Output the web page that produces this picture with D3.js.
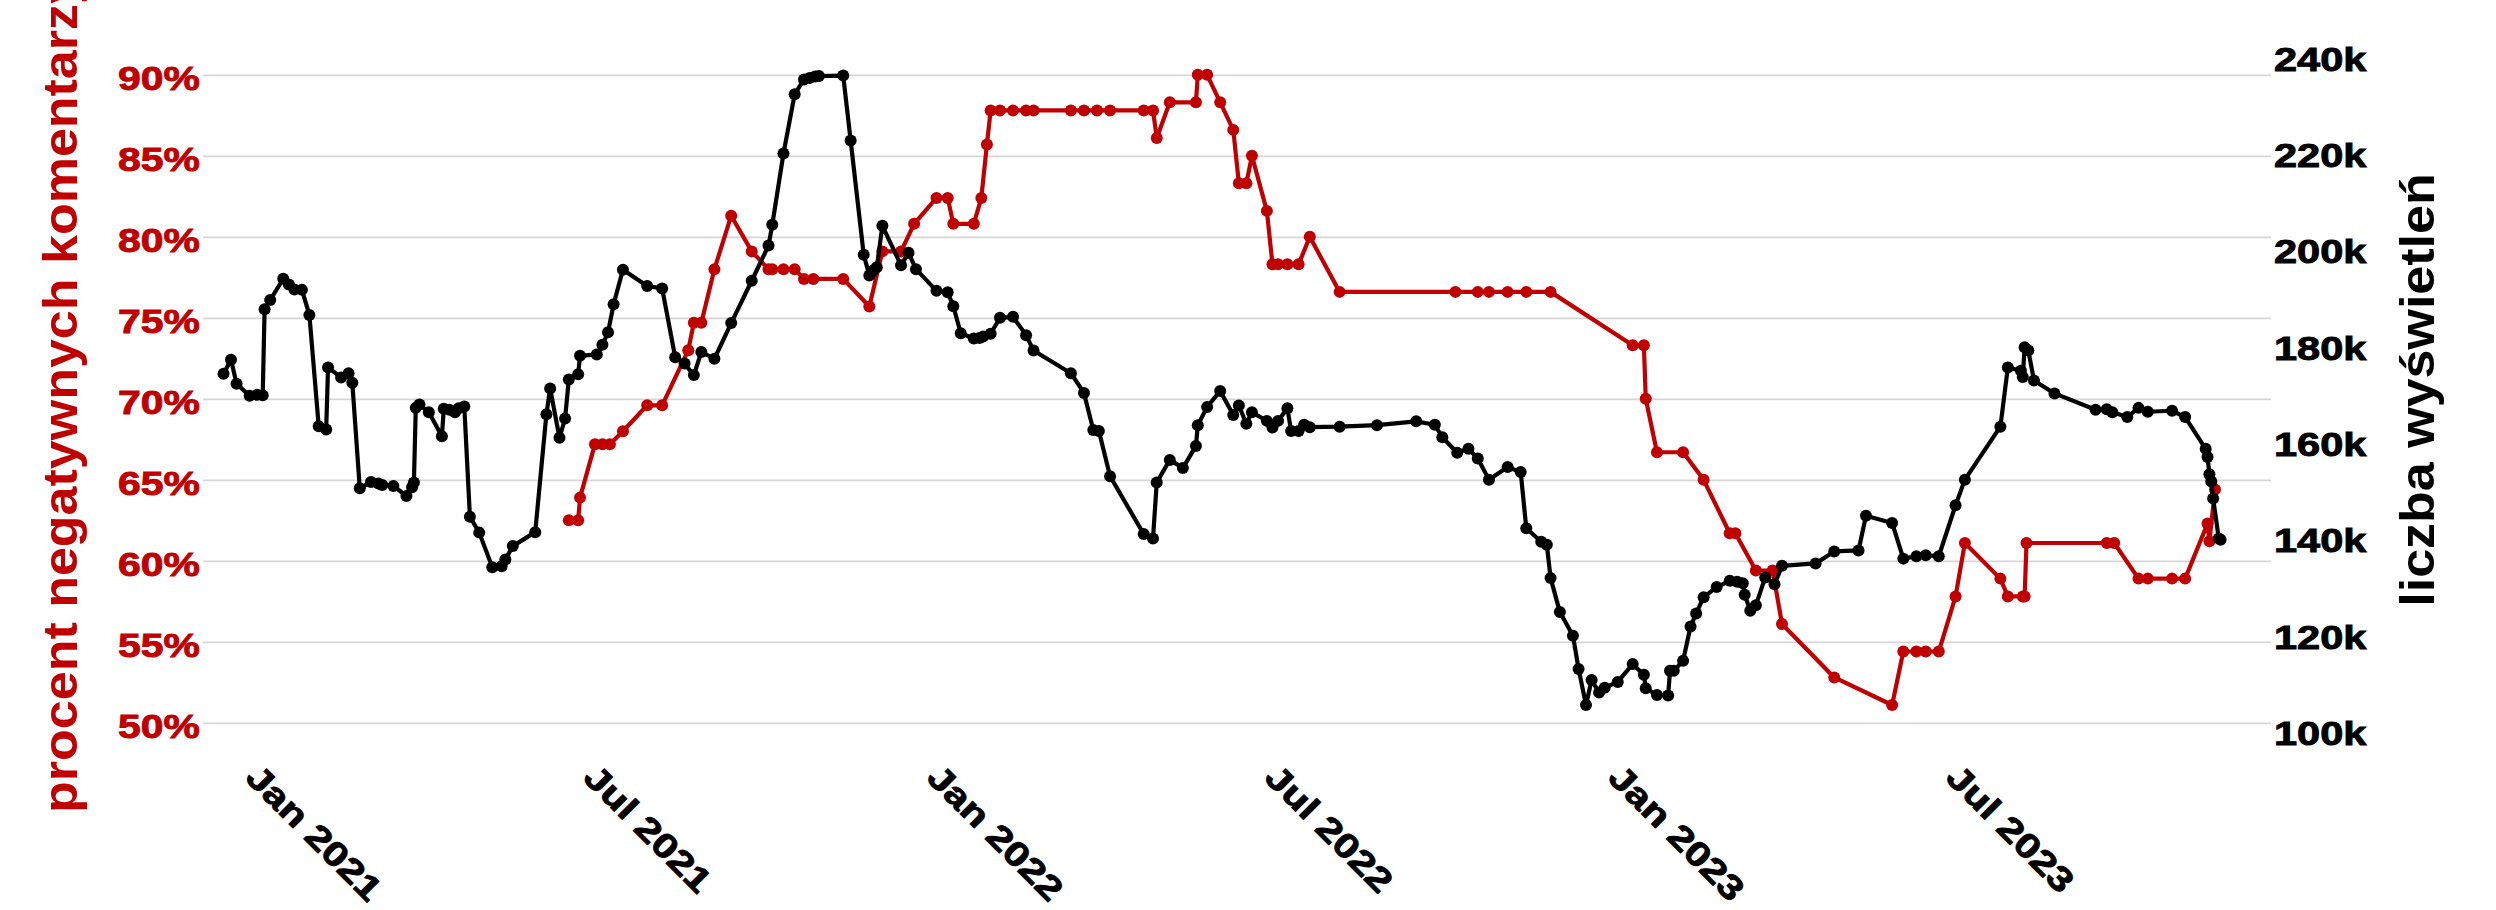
<!DOCTYPE html>
<html>
<head>
<meta charset="utf-8">
<script src="https://cdn.jsdelivr.net/npm/d3@7"></script>
<style>
  html, body { margin: 0; padding: 0; background: #fff; }
  svg { display: block; }
  text { font-family: "Liberation Sans", Arial, sans-serif; font-weight: bold; }
</style>
</head>
<body>
<svg id="chart" width="2496" height="910"></svg>
<script>
// views over time (black, right axis, thousands)
var viewDates = ["2020-12-12","2020-12-16","2020-12-19","2020-12-26","2020-12-30","2021-01-02","2021-01-03","2021-01-06","2021-01-13","2021-01-16",
  "2021-01-19","2021-01-23","2021-01-27","2021-02-01","2021-02-05","2021-02-06","2021-02-13","2021-02-17","2021-02-19","2021-02-23",
  "2021-03-01","2021-03-05","2021-03-07","2021-03-13","2021-03-20","2021-03-23","2021-03-24","2021-03-25","2021-03-27","2021-04-01",
  "2021-04-08","2021-04-09","2021-04-12","2021-04-15","2021-04-17","2021-04-20","2021-04-23","2021-04-28","2021-05-05","2021-05-10",
  "2021-05-12","2021-05-16","2021-05-28","2021-06-03","2021-06-05","2021-06-10","2021-06-13","2021-06-15","2021-06-20","2021-06-21",
  "2021-06-30","2021-07-03","2021-07-06","2021-07-09","2021-07-14","2021-07-27","2021-08-04","2021-08-11","2021-08-16","2021-08-21",
  "2021-08-25","2021-09-01","2021-09-10","2021-09-21","2021-09-30","2021-10-02","2021-10-08","2021-10-14","2021-10-19","2021-10-22",
  "2021-10-25","2021-10-27","2021-11-09","2021-11-13","2021-11-20","2021-11-23","2021-11-25","2021-11-27","2021-11-30","2021-12-10",
  "2021-12-14","2021-12-18","2021-12-29","2022-01-04","2022-01-07","2022-01-11","2022-01-18","2022-01-21","2022-01-23","2022-01-27",
  "2022-02-01","2022-02-08","2022-02-15","2022-02-19","2022-03-11","2022-03-18","2022-03-23","2022-03-26","2022-04-01","2022-04-19",
  "2022-04-24","2022-04-26","2022-05-03","2022-05-10","2022-05-17","2022-05-18","2022-05-23","2022-05-30","2022-06-06","2022-06-09",
  "2022-06-13","2022-06-16","2022-06-24","2022-06-27","2022-06-30","2022-07-05","2022-07-07","2022-07-11","2022-07-14","2022-07-17",
  "2022-08-02","2022-08-22","2022-09-12","2022-09-22","2022-09-26","2022-10-04","2022-10-10","2022-10-15","2022-10-21","2022-10-31",
  "2022-11-07","2022-11-10","2022-11-18","2022-11-21","2022-11-23","2022-11-28","2022-12-05","2022-12-08","2022-12-12","2022-12-15",
  "2022-12-19","2022-12-22","2022-12-29","2023-01-06","2023-01-12","2023-01-13","2023-01-19","2023-01-25","2023-01-26","2023-01-28",
  "2023-02-02","2023-02-06","2023-02-09","2023-02-13","2023-02-20","2023-02-27","2023-03-03","2023-03-06","2023-03-07","2023-03-10",
  "2023-03-13","2023-03-18","2023-03-23","2023-03-27","2023-04-14","2023-04-24","2023-05-07","2023-05-11","2023-05-25","2023-05-31",
  "2023-06-07","2023-06-12","2023-06-19","2023-06-28","2023-07-03","2023-07-22","2023-07-26","2023-08-02","2023-08-03","2023-08-04",
  "2023-08-06","2023-08-09","2023-08-20","2023-09-11","2023-09-17","2023-09-20","2023-09-28","2023-10-04","2023-10-09","2023-10-22",
  "2023-10-29","2023-11-09","2023-11-10","2023-11-11","2023-11-12","2023-11-13","2023-11-16","2023-11-17"];
var viewCounts = [174.5,177.4,172.4,169.9,170.1,170.0,187.9,189.8,194.2,193.0,
  192.0,191.9,186.7,163.6,162.9,175.8,173.7,174.6,172.6,150.7,
  152.0,151.7,151.4,151.2,149.1,150.9,151.9,167.4,168.1,166.5,
  161.5,167.2,167.0,166.5,167.3,167.7,144.8,141.5,134.3,134.5,
  135.9,138.7,141.6,166.1,171.4,161.2,165.2,173.3,174.4,178.2,
  178.5,180.5,183.1,188.9,196.1,192.7,192.2,177.9,176.6,174.2,
  179.0,177.6,185.0,193.8,201.1,205.4,220.2,232.5,235.6,235.9,
  236.2,236.3,236.4,222.9,199.2,194.9,195.9,196.6,205.2,197.0,
  199.6,196.2,191.7,191.4,188.5,182.9,181.8,181.9,182.2,182.8,
  186.1,186.3,182.5,179.3,174.6,170.5,162.8,162.6,153.2,141.2,
  140.3,151.9,156.6,154.9,159.5,163.8,167.6,170.9,165.9,167.9,
  164.1,166.5,164.7,163.3,164.7,167.3,162.6,162.6,163.9,163.4,
  163.5,163.8,164.6,163.9,161.3,158.1,158.9,156.9,152.5,155.1,
  154.1,142.4,139.6,139.0,132.1,125.0,120.1,113.2,105.7,110.9,
  108.3,109.3,110.5,114.2,112.0,109.2,107.8,107.7,112.8,112.8,
  114.9,122.0,124.7,128.1,130.2,131.5,131.3,131.0,128.6,125.3,
  126.4,132.2,130.8,134.6,135.1,137.6,137.8,145.0,143.5,136.1,
  136.6,136.8,136.6,147.2,152.5,163.5,175.8,175.1,173.8,180.0,
  179.3,173.1,170.4,167.0,167.1,166.5,165.5,167.4,166.6,166.8,
  165.5,158.9,157.2,153.6,152.1,148.6,140.3,140.0];

// share of negative comments (red, left axis, %)
var negDates = ["2021-06-15","2021-06-20","2021-06-21","2021-06-29","2021-07-03","2021-07-07","2021-07-14","2021-07-27","2021-08-04","2021-08-18",
  "2021-08-21","2021-08-25","2021-09-01","2021-09-10","2021-09-21","2021-09-30","2021-10-02","2021-10-08","2021-10-14","2021-10-19",
  "2021-10-24","2021-11-09","2021-11-23","2021-11-30","2021-12-10","2021-12-17","2021-12-29","2022-01-04","2022-01-07","2022-01-18",
  "2022-01-22","2022-01-25","2022-01-27","2022-02-01","2022-02-08","2022-02-15","2022-02-19","2022-03-11","2022-03-18","2022-03-25",
  "2022-04-01","2022-04-19","2022-04-24","2022-04-26","2022-05-03","2022-05-17","2022-05-18","2022-05-23","2022-05-30","2022-06-06",
  "2022-06-09","2022-06-13","2022-06-16","2022-06-24","2022-06-27","2022-06-30","2022-07-05","2022-07-11","2022-07-17","2022-08-02",
  "2022-10-03","2022-10-15","2022-10-21","2022-10-31","2022-11-10","2022-11-23","2023-01-06","2023-01-12","2023-01-13","2023-01-19",
  "2023-02-02","2023-02-13","2023-02-27","2023-03-02","2023-03-13","2023-03-22","2023-03-27","2023-04-24","2023-05-25","2023-05-31",
  "2023-06-07","2023-06-12","2023-06-19","2023-06-28","2023-07-03","2023-07-22","2023-07-26","2023-08-03","2023-08-04","2023-08-05",
  "2023-09-17","2023-09-21","2023-10-04","2023-10-09","2023-10-22","2023-10-29","2023-11-10","2023-11-11","2023-11-14"];
var negPct = [62.5,62.5,63.9,67.2,67.2,67.2,68.0,69.6,69.6,73.0,
  74.7,74.7,78.0,81.3,79.1,78.0,78.0,78.0,78.0,77.4,
  77.4,77.4,75.7,79.1,79.1,80.8,82.4,82.4,80.8,80.8,
  82.4,85.7,87.8,87.8,87.8,87.8,87.8,87.8,87.8,87.8,
  87.8,87.8,87.8,86.1,88.3,88.3,90.0,90.0,88.3,86.6,
  83.3,83.3,85.0,81.6,78.3,78.3,78.3,78.3,80.0,76.6,
  76.6,76.6,76.6,76.6,76.6,76.6,73.3,73.3,70.0,66.7,
  66.7,65.0,61.7,61.7,59.4,59.4,56.1,52.8,51.1,54.4,
  54.4,54.4,54.4,57.8,61.1,58.9,57.8,57.8,57.8,61.1,
  61.1,61.1,58.9,58.9,58.9,58.9,62.3,61.2,64.4];

// ticks
var pctTicks = [50, 55, 60, 65, 70, 75, 80, 85, 90];
var viewTicks = [100, 120, 140, 160, 180, 200, 220, 240];
var dateTicks = ["2021-01-01", "2021-07-01", "2022-01-01", "2022-07-01", "2023-01-01", "2023-07-01"];
var xDomain = ["2020-12-01", "2023-12-14"];

var red = "#c00000";
var parseDate = d3.utcParse("%Y-%m-%d");

var views = viewDates.map(function(d, i) { return { date: parseDate(d), v: viewCounts[i] }; });
var neg = negDates.map(function(d, i) { return { date: parseDate(d), p: negPct[i] }; });

var panel = { left: 203, right: 2271 };

var x = d3.scaleUtc().domain(xDomain.map(parseDate)).range([panel.left, panel.right]);
var yLeft = d3.scaleLinear().domain([50, 90]).range([722.8, 74.8]);
var yRight = d3.scaleLinear().domain([100, 240]).range([732.5, 58.2]);

var svg = d3.select("#chart");

// horizontal gridlines
svg.append("g").attr("class", "grid")
  .call(d3.axisLeft(yLeft).tickValues(pctTicks).tickSize(-(panel.right - panel.left)).tickFormat(""))
  .attr("transform", "translate(" + panel.left + ",0)")
  .call(function(g) {
    g.select(".domain").remove();
    g.selectAll("line").attr("stroke", "#d6d6d6").attr("stroke-width", 1.8);
  });

// left axis labels
svg.append("g")
  .attr("transform", "translate(" + (panel.left - 3) + ",0)")
  .call(d3.axisLeft(yLeft).tickValues(pctTicks).tickSize(0).tickPadding(0).tickFormat(function(d) { return d + "%"; }))
  .call(function(g) {
    g.select(".domain").remove();
    g.selectAll("text")
      .attr("x", 0).attr("dy", null).attr("y", 14.3)
      .attr("transform", "scale(1.24,1)")
      .attr("fill", red).attr("stroke", red).attr("stroke-width", 0.9)
      .style("font-size", "33px");
  });

// right axis labels
svg.append("g")
  .attr("transform", "translate(" + (panel.right + 3) + ",0)")
  .call(d3.axisRight(yRight).tickValues(viewTicks).tickSize(0).tickPadding(0).tickFormat(function(d) { return d + "k"; }))
  .call(function(g) {
    g.select(".domain").remove();
    g.selectAll("text")
      .attr("x", 0).attr("dy", null).attr("y", 12)
      .attr("transform", "scale(1.26,1)")
      .attr("fill", "#000").attr("stroke", "#000").attr("stroke-width", 0.9)
      .style("font-size", "33px");
  });

// x axis labels
svg.append("g")
  .attr("transform", "translate(0,762)")
  .call(d3.axisBottom(x).tickValues(dateTicks.map(parseDate)).tickSize(0).tickFormat(d3.utcFormat("%b %Y")))
  .call(function(g) {
    g.select(".domain").remove();
    g.selectAll("text")
      .attr("x", 0).attr("y", 0).attr("dy", "0.72em")
      .attr("text-anchor", "start")
      .attr("transform", "rotate(45) scale(1.22,1)")
      .attr("fill", "#000").attr("stroke", "#000").attr("stroke-width", 0.9)
      .style("font-size", "34px");
  });

// red series: negative comments
var lineNeg = d3.line().x(function(d) { return x(d.date); }).y(function(d) { return yLeft(d.p); });
svg.append("path").datum(neg)
  .attr("fill", "none").attr("stroke", red).attr("stroke-width", 4.2).attr("stroke-linejoin", "round")
  .attr("d", lineNeg);
svg.append("g").selectAll("circle").data(neg).enter().append("circle")
  .attr("cx", function(d) { return x(d.date); })
  .attr("cy", function(d) { return yLeft(d.p); })
  .attr("r", 6).attr("fill", red);

// black series: views
var lineViews = d3.line().x(function(d) { return x(d.date); }).y(function(d) { return yRight(d.v); });
svg.append("path").datum(views)
  .attr("fill", "none").attr("stroke", "#000").attr("stroke-width", 4.2).attr("stroke-linejoin", "round")
  .attr("d", lineViews);
svg.append("g").selectAll("circle").data(views).enter().append("circle")
  .attr("cx", function(d) { return x(d.date); })
  .attr("cy", function(d) { return yRight(d.v); })
  .attr("r", 6).attr("fill", "#000");

// axis titles
svg.append("text")
  .attr("transform", "translate(77,394) rotate(-90) scale(1,0.93)")
  .attr("text-anchor", "middle")
  .attr("fill", red).style("font-size", "52px")
  .text("procent negatywnych komentarzy");

svg.append("text")
  .attr("transform", "translate(2434,390) rotate(-90) scale(1,0.93)")
  .attr("text-anchor", "middle")
  .attr("fill", "#000").style("font-size", "52px")
  .text("liczba wyświetleń");
</script>
</body>
</html>
